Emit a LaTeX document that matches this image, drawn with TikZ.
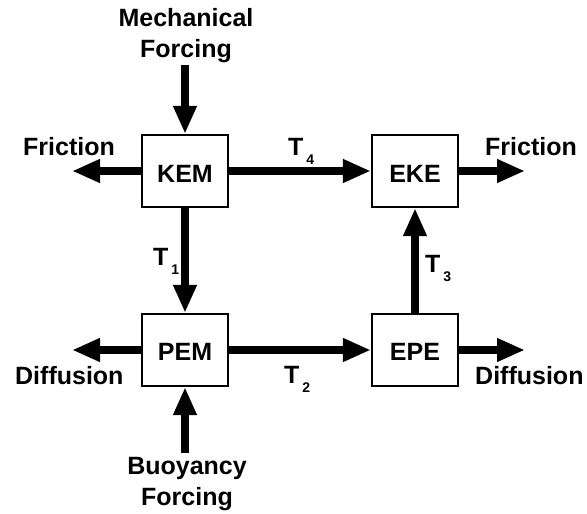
\documentclass[tikz,border=0pt]{standalone}
\usepackage{fontspec}
\setmainfont{Liberation Sans}
\usetikzlibrary{arrows.meta}
\newcommand{\tsub}[1]{T\kern3pt\raisebox{-9pt}{\fontsize{14}{14}\selectfont #1}}

\begin{document}
\begin{tikzpicture}[
x=1pt, y=-1pt,
font=\fontsize{25}{31}\selectfont\bfseries,
box/.style={draw, line width=2.2pt, minimum width=86pt, minimum height=72pt, inner sep=0pt},
flow/.style={line width=7.5pt, -{Triangle[width=22pt,length=28pt]}},
lbl/.style={inner sep=0pt, anchor=base, align=center}
]
\useasboundingbox (0,0) rectangle (587,514);
\node [box] (kem) at (185,171) {};
\node [box] (eke) at (415,171) {};
\node [box] (pem) at (185,350) {};
\node [box] (epe) at (415,350) {};
\node [lbl] at (185,182) {KEM};
\node [lbl] at (415,182) {EKE};
\node [lbl] at (185,360) {PEM};
\node [lbl] at (415,360) {EPE};
\coordinate (mechin) at (185,65);
\coordinate (buoyin) at (185,453);
\coordinate (fricl) at (72,171);
\coordinate (fricr) at (525,171);
\coordinate (diffl) at (72,350);
\coordinate (diffr) at (525,350);
\draw [flow] (mechin) -- (kem);
\draw [flow] (kem) -- (fricl);
\draw [flow] (kem) -- (eke);
\draw [flow] (eke) -- (fricr);
\draw [flow] (kem) -- (pem);
\draw [flow] (epe) -- (eke);
\draw [flow] (pem) -- (epe);
\draw [flow] (pem) -- (diffl);
\draw [flow] (epe) -- (diffr);
\draw [flow] (buoyin) -- (pem);
\node [lbl] (mech) at (186,57) {Mechanical\\Forcing};
\node [lbl] (buoy) at (187,505) {Buoyancy\\Forcing};
\node [lbl, anchor=base west] (fricltxt) at (23,155) {Friction};
\node [lbl, anchor=base west] (fricrtxt) at (485,155) {Friction};
\node [lbl, anchor=base west] (diffltxt) at (15,384) {Diffusion};
\node [lbl, anchor=base west] (diffrtxt) at (475,384) {Diffusion};
\node [lbl, anchor=base west] (t4) at (288,155) {\tsub{4}};
\node [lbl, anchor=base west] (t1) at (153,265) {\tsub{1}};
\node [lbl, anchor=base west] (t2) at (284,383) {\tsub{2}};
\node [lbl, anchor=base west] (t3) at (425,272) {\tsub{3}};
\end{tikzpicture}
\end{document}
